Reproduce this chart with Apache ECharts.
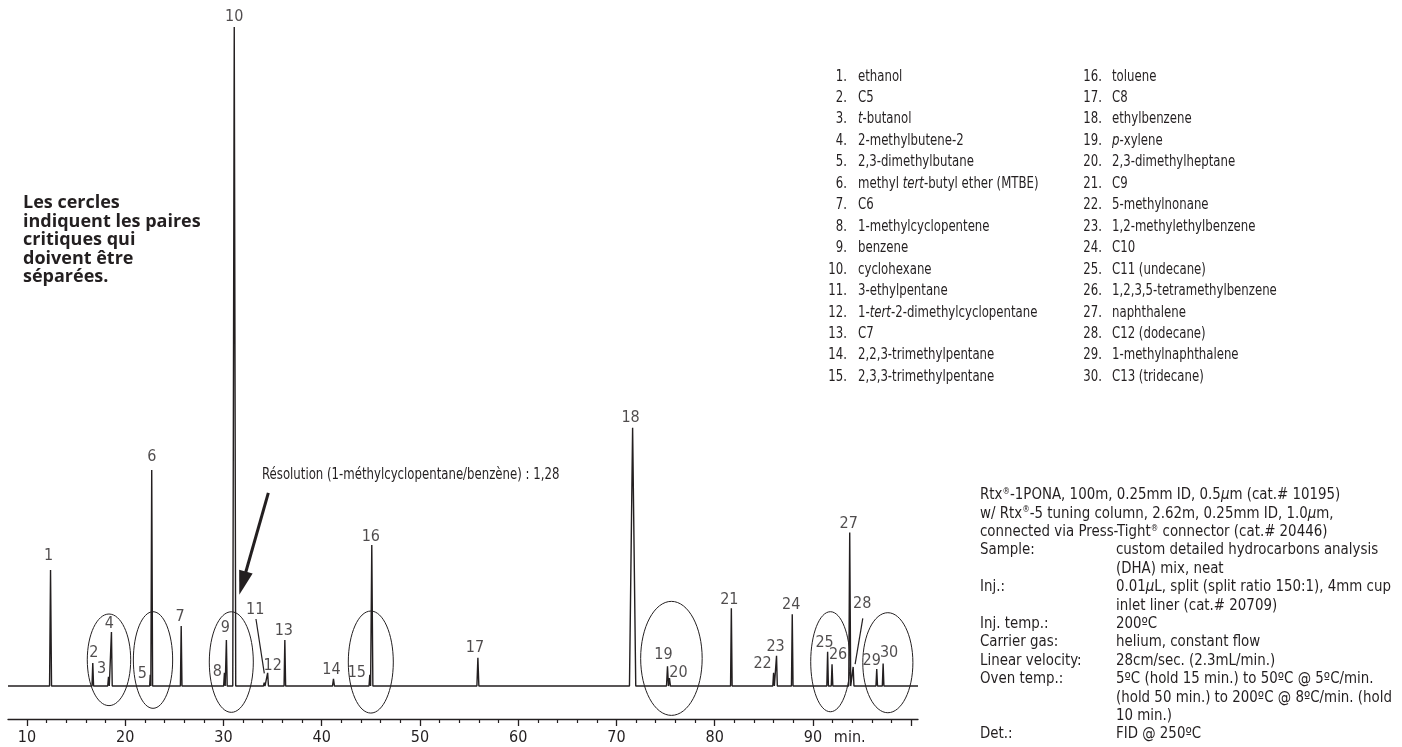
<!DOCTYPE html>
<html>
<head>
<meta charset="utf-8">
<script src="https://cdn.jsdelivr.net/npm/echarts@6/dist/echarts.min.js"></script>
<style>
  html, body { margin: 0; padding: 0; background: #fff; }
  #chart { width: 1402px; height: 747px; }
</style>
</head>
<body>
<div id="chart"></div>
<script>
// chromatogram peaks: retention time (min) and height (% of peak 10)
const peakNumbers = [1, 2, 3, 4, 5, 6, 7, 8, 9, 10, 11, 12, 13, 14, 15, 16, 17, 18, 19, 20, 21, 22, 23, 24, 25, 26, 27, 28, 29, 30]
const retentionTimes = [12.4, 16.7, 18.3, 18.6, 22.55, 22.7, 25.7, 30.1, 30.3, 31.1, 34.15, 34.5, 36.25, 41.2, 44.9, 45.1, 55.9, 71.65, 75.2, 75.4, 81.7, 86.0, 86.3, 87.9, 91.5, 91.95, 93.75, 94.1, 96.5, 97.15]
const peakHeights = [17.6, 3.5, 1.4, 8.2, 1.7, 32.8, 9.1, 2.0, 7.0, 100, 0.5, 2.0, 7.0, 1.1, 1.7, 21.4, 4.3, 39.2, 3.0, 1.2, 11.8, 2.0, 4.6, 10.9, 5.2, 3.3, 23.3, 2.9, 2.6, 3.4]
const peakHalfWidths = [0.1, 0.08, 0.08, 0.08, 0.06, 0.09, 0.08, 0.08, 0.08, 0.15, 0.08, 0.08, 0.08, 0.1, 0.08, 0.11, 0.1, 0.32, 0.1, 0.1, 0.08, 0.08, 0.08, 0.08, 0.08, 0.08, 0.1, 0.08, 0.08, 0.08]

// peak pairs that are circled: centre time, centre height, half width (min), half height
const circledPairs = [
  [18.35, 3.98, 2.21, 6.95],
  [22.83, 3.95, 2.0, 7.33],
  [30.8, 3.64, 2.24, 7.63],
  [45.0, 3.64, 2.29, 7.74],
  [75.6, 4.2, 3.13, 8.65],
  [91.78, 3.69, 2.0, 7.59],
  [97.63, 3.54, 2.55, 7.59]
]

const xTicks = [10, 20, 30, 40, 50, 60, 70, 80, 90, 100]
const xTickLabels = [10, 20, 30, 40, 50, 60, 70, 80, 90]
const xMinorTicks = [12, 14, 16, 18, 22, 24, 26, 28, 32, 34, 36, 38, 42, 44, 46, 48, 52, 54, 56, 58, 62, 64, 66, 68, 72, 74, 76, 78, 82, 84, 86, 88, 92, 94, 96, 98]

const compoundNames = [
  'ethanol', 'C5', '{i|t}-butanol', '2-methylbutene-2', '2,3-dimethylbutane',
  'methyl {i|tert}-butyl ether (MTBE)', 'C6', '1-methylcyclopentene', 'benzene', 'cyclohexane',
  '3-ethylpentane', '1-{i|tert}-2-dimethylcyclopentane', 'C7', '2,2,3-trimethylpentane', '2,3,3-trimethylpentane',
  'toluene', 'C8', 'ethylbenzene', '{i|p}-xylene', '2,3-dimethylheptane',
  'C9', '5-methylnonane', '1,2-methylethylbenzene', 'C10', 'C11 (undecane)',
  '1,2,3,5-tetramethylbenzene', 'naphthalene', 'C12 (dodecane)', '1-methylnaphthalene', 'C13 (tridecane)'
]

const condHeader = [
  'Rtx{sup|®}-1PONA, 100m, 0.25mm ID, 0.5{i|µ}m (cat.# 10195)',
  'w/ Rtx{sup|®}-5 tuning column, 2.62m, 0.25mm ID, 1.0{i|µ}m,',
  'connected via Press-Tight{sup|®} connector (cat.# 20446)'
]
const condKeys = ['Sample:', '', 'Inj.:', '', 'Inj. temp.:', 'Carrier gas:', 'Linear velocity:', 'Oven temp.:', '', '', 'Det.:']
const condValues = [
  'custom detailed hydrocarbons analysis', '(DHA) mix, neat',
  '0.01{i|µ}L, split (split ratio 150:1), 4mm cup', 'inlet liner (cat.# 20709)',
  '200ºC', 'helium, constant flow', '28cm/sec. (2.3mL/min.)',
  '5ºC (hold 15 min.) to 50ºC @ 5ºC/min.', '(hold 50 min.) to 200ºC @ 8ºC/min. (hold', '10 min.)',
  'FID @ 250ºC'
]
const noteLines = ['Les cercles', 'indiquent les paires', 'critiques qui', 'doivent être', 'séparées.']
const resolutionText = 'Résolution (1-méthylcyclopentane/benzène) : 1,28'

// label offsets (px) from the peak apex
const labelOffsets = [
  [-2, -14], [1, -10], [-7, -8], [-2, -8], [-8, -1], [0, -13], [-1, -9], [-7, -1], [-1, -12], [0, -10],
  [-9, -73], [5, -7], [-1, -9], [-2, -9], [-13, -2], [-1, -8], [-3, -10], [-2, -10], [-4, -11], [9, -5],
  [-2, -8], [-11, -9], [-1, -9], [-1, -9], [-3, -9], [6, -9], [-1, -9], [9, -63], [-5, -8], [6, -11]
]

const FONT = "'Liberation Sans Narrow', 'DejaVu Sans Condensed', sans-serif"
const INK = '#231f20'

// build the trace from the peak table
const trace = [[8.07, 0], [100.7, 0]]
retentionTimes.forEach((t, i) => {
  const hw = peakHalfWidths[i]
  trace.push([t - hw, 0], [t, peakHeights[i]], [t + hw, 0])
})
trace.sort((a, b) => a[0] - b[0])

const chart = echarts.init(document.getElementById('chart'))

const option = {
  animation: false,
  grid: { left: 8, right: 484, top: 27, bottom: 28 },
  xAxis: [
    {
      type: 'value', min: 8.07, max: 100.7, position: 'bottom',
      splitLine: { show: false },
      axisLine: { onZero: false, lineStyle: { color: INK, width: 1.3 } },
      axisTick: { customValues: xTicks, length: 7, lineStyle: { color: INK, width: 1.3 } },
      axisLabel: {
        customValues: xTickLabels.concat([93.75]),
        formatter: v => (v > 91 ? 'min.' : String(v)),
        color: INK, fontFamily: FONT, fontSize: 16, margin: 11
      }
    },
    {
      type: 'value', min: 8.07, max: 100.7, position: 'bottom',
      splitLine: { show: false },
      axisLine: { show: false, onZero: false },
      axisTick: { customValues: xMinorTicks, length: 4, lineStyle: { color: INK, width: 1.2 } },
      axisLabel: { show: false }
    }
  ],
  yAxis: { type: 'value', min: -5, max: 100, show: false },
  series: [
    {
      type: 'line',
      data: trace,
      symbol: 'none',
      clip: false,
      lineStyle: { color: INK, width: 1.4 },
      markLine: {
        silent: true,
        symbol: ['none', 'none'],
        label: { show: false },
        lineStyle: { color: INK, width: 1.2, type: 'solid' },
        data: [
          [{ coord: [33.31, 10.17] }, { coord: [34.16, 1.93] }],
          [{ coord: [95.08, 10.27] }, { coord: [94.3, 3.34] }],
          [
            { coord: [34.57, 29.3], lineStyle: { width: 3 } },
            { coord: [31.95, 15.6], symbol: 'triangle', symbolSize: [14, 24] }
          ]
        ]
      }
    },
    {
      type: 'scatter',
      symbolSize: 1,
      itemStyle: { color: 'transparent' },
      silent: true,
      data: peakNumbers.map((n, i) => ({
        name: String(n),
        value: [retentionTimes[i], peakHeights[i]],
        label: { offset: labelOffsets[i] }
      })),
      label: {
        show: true, position: 'inside', formatter: p => p.name,
        color: INK, fontFamily: FONT, fontSize: 16
      }
    }
  ]
}
chart.setOption(option)

// text helper; sx squeezes the text horizontally to imitate the narrow face
const txt = (x, y, text, size, sx, extra) => ({
  type: 'text', x, y, scaleX: sx, silent: true,
  style: Object.assign({
    text, fill: INK, fontFamily: FONT, fontSize: size,
    align: 'left', verticalAlign: 'middle', textAlign: 'left', textVerticalAlign: 'middle',
    rich: {
      i: { fontStyle: 'italic', fontFamily: FONT, fontSize: size, fill: INK },
      sup: { fontFamily: FONT, fontSize: Math.round(size * 0.55), fill: INK, verticalAlign: 'top' }
    }
  }, extra || {})
})

const graphics = []

// compound list in two columns
compoundNames.forEach((name, i) => {
  const col = i < 15 ? 0 : 1
  const row = i % 15
  const y = 76.7 + row * 21.45
  const numRight = col === 0 ? 847 : 1102
  const nameLeft = col === 0 ? 858 : 1112
  graphics.push(txt(numRight, y, (i + 1) + '.', 15, 0.87, { align: 'right', textAlign: 'right' }))
  graphics.push(txt(nameLeft, y, name, 15, 0.87))
})

// conditions block
const condTop = 495
const condStep = 18.4
condHeader.forEach((line, i) => {
  graphics.push(txt(980, condTop + i * condStep, line, 16, 0.93))
})
condKeys.forEach((k, i) => {
  const y = condTop + (i + 3) * condStep
  if (k) graphics.push(txt(980, y, k, 16, 0.93))
  graphics.push(txt(1116, y, condValues[i], 16, 0.93))
})

// note on the left
noteLines.forEach((line, i) => {
  graphics.push(txt(23, 203 + i * 18.5, line, 18, 1, { fontFamily: "'Open Sans', sans-serif", fontWeight: 'bold' }))
})

graphics.push(txt(262, 475, resolutionText, 15, 0.87))

// ellipses around critical pairs
circledPairs.forEach(([t, v, hw, hh]) => {
  const c = chart.convertToPixel({ gridIndex: 0 }, [t, v])
  const e = chart.convertToPixel({ gridIndex: 0 }, [t + hw, v + hh])
  graphics.push({
    type: 'ellipse', silent: true,
    shape: { cx: c[0], cy: c[1], rx: Math.abs(e[0] - c[0]), ry: Math.abs(c[1] - e[1]) },
    style: { fill: 'none', stroke: INK, lineWidth: 1 }
  })
})

chart.setOption({ graphic: graphics })

window.addEventListener('resize', () => chart.resize())
</script>
</body>
</html>
